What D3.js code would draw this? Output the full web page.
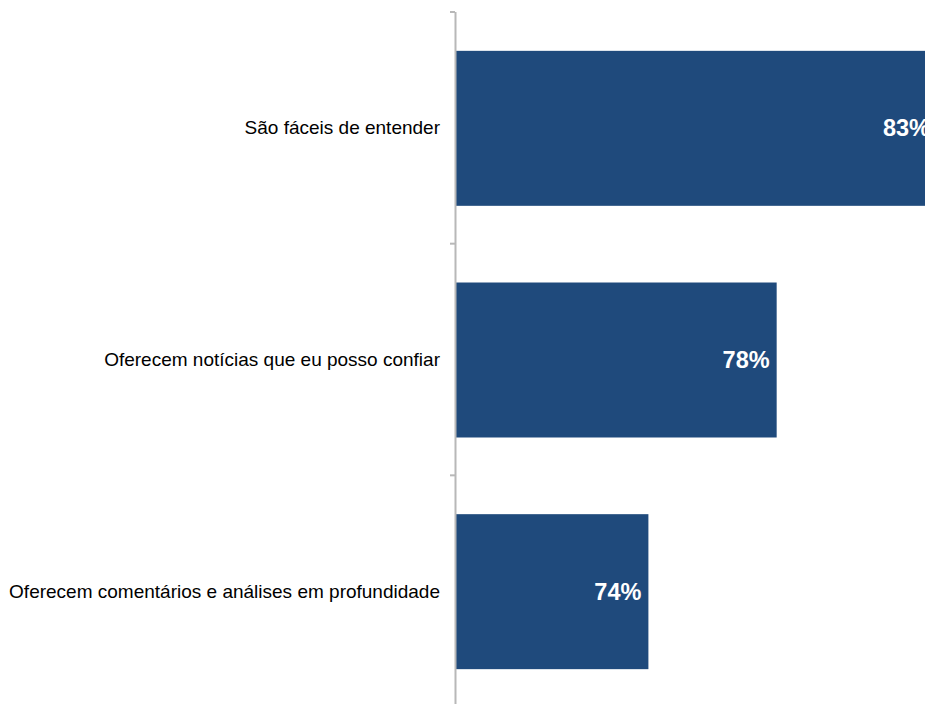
<!DOCTYPE html>
<html lang="pt">
<head>
<meta charset="utf-8">
<title>Notícias</title>
<script src="https://d3js.org/d3.v7.min.js"></script>
<style>
    body { margin: 0; background: #fff; font-family: 'Liberation Sans', Arial, sans-serif; }
    svg { display: block; overflow: hidden; }
</style>
</head>
<body>
<div id="chart"></div>
<script>
// data
var categories = ["São fáceis de entender", "Oferecem notícias que eu posso confiar", "Oferecem comentários e análises em profundidade"];
var values = [83, 78, 74];
var valueLabels = ["83%", "78%", "74%"];

var width = 925, height = 704;
var pad = 0.331;

var svg = d3.select("#chart").append("svg")
    .attr("width", width)
    .attr("height", height);

var y = d3.scaleBand()
    .domain(categories)
    .range([12, 707])
    .paddingInner(pad)
    .paddingOuter(pad / 2);

var x = d3.scaleLinear()
    .domain([68, 83])
    .range([456, 937]);

var step = y.step();

// bars
svg.selectAll("rect.bar")
    .data(categories)
    .enter().append("rect")
    .attr("class", "bar")
    .attr("x", x(68))
    .attr("y", d => y(d) + 0.5)
    .attr("width", (d, i) => x(values[i]) - x(68))
    .attr("height", y.bandwidth())
    .attr("fill", "#1f4a7c");

// axis line + ticks at band boundaries
svg.append("line")
    .attr("x1", 455.5).attr("x2", 455.5)
    .attr("y1", 12).attr("y2", height)
    .attr("stroke", "#b8b8b8")
    .attr("stroke-width", 2);

var tickPos = d3.range(categories.length + 1).map(i => y.range()[0] + i * step);
svg.selectAll("line.tick")
    .data(tickPos)
    .enter().append("line")
    .attr("class", "tick")
    .attr("x1", 450).attr("x2", 455)
    .attr("y1", d => d).attr("y2", d => d)
    .attr("stroke", "#b8b8b8")
    .attr("stroke-width", 2);

// category labels
svg.selectAll("text.cat")
    .data(categories)
    .enter().append("text")
    .attr("class", "cat")
    .attr("x", 440)
    .attr("y", d => y(d) + y.bandwidth() / 2)
    .attr("dy", "0.35em")
    .attr("text-anchor", "end")
    .attr("font-size", "19px")
    .attr("fill", "#000")
    .text(d => d);

// value labels
svg.selectAll("text.val")
    .data(categories)
    .enter().append("text")
    .attr("class", "val")
    .attr("x", (d, i) => x(values[i]) - 7)
    .attr("y", d => y(d) + y.bandwidth() / 2)
    .attr("dy", "0.36em")
    .attr("text-anchor", "end")
    .attr("font-size", "23.5px")
    .attr("font-weight", "bold")
    .attr("fill", "#fff")
    .text((d, i) => valueLabels[i]);
</script>
</body>
</html>
